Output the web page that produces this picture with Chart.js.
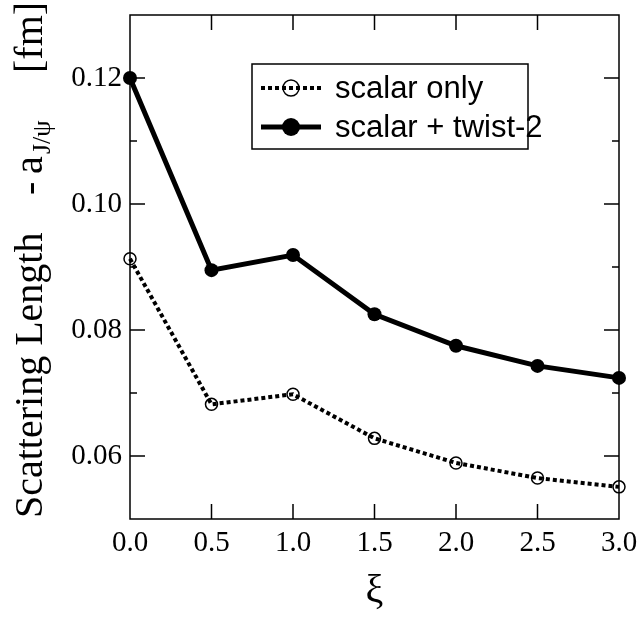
<!DOCTYPE html>
<html>
<head>
<meta charset="utf-8">
<script src="https://cdn.jsdelivr.net/npm/chart.js@4"></script>
<style>
  html, body { margin: 0; padding: 0; background: #fff; }
  #wrap { width: 639px; height: 619px; }
</style>
</head>
<body>
<div id="wrap"><canvas id="chart" width="639" height="619"></canvas></div>
<script>
// values
const xiValues = [0.0, 0.5, 1.0, 1.5, 2.0, 2.5, 3.0];
const scalarOnly = [0.0913, 0.0682, 0.0698, 0.0628, 0.0589, 0.0565, 0.0551];
const scalarTwist2 = [0.1200, 0.0895, 0.0919, 0.0825, 0.0775, 0.0743, 0.0724];
const seriesLabels = ["scalar only", "scalar + twist-2"];
const xTicks = [0, 0.5, 1.0, 1.5, 2.0, 2.5, 3.0];
const yTicks = [0.05, 0.06, 0.07, 0.08, 0.09, 0.10, 0.11, 0.12, 0.13];
const yLabelTicks = [0.06, 0.08, 0.10, 0.12];

const serif = '"Liberation Serif", "Times New Roman", serif';
const sans = '"Liberation Sans", Arial, sans-serif';

function toPoints(ys) {
  return xiValues.map((x, i) => ({ x: x, y: ys[i] }));
}

function isLabelTick(v) {
  return yLabelTicks.some(t => Math.abs(t - v) < 1e-9);
}

// frame + inward ticks on all four sides
const frameTicks = {
  id: "frameTicks",
  afterDraw(chart) {
    const { ctx, chartArea: a, scales } = chart;
    ctx.save();
    ctx.strokeStyle = "#000";
    ctx.lineWidth = 1.5;
    ctx.strokeRect(a.left, a.top, a.right - a.left, a.bottom - a.top);
    ctx.beginPath();
    scales.x.ticks.forEach(t => {
      const px = scales.x.getPixelForValue(t.value);
      if (px <= a.left + 1 || px >= a.right - 1) return;
      ctx.moveTo(px, a.bottom); ctx.lineTo(px, a.bottom - 15);
      ctx.moveTo(px, a.top); ctx.lineTo(px, a.top + 15);
    });
    scales.y.ticks.forEach(t => {
      const py = scales.y.getPixelForValue(t.value);
      if (py <= a.top + 1 || py >= a.bottom - 1) return;
      const len = isLabelTick(t.value) ? 15 : 7;
      ctx.moveTo(a.left, py); ctx.lineTo(a.left + len, py);
      ctx.moveTo(a.right, py); ctx.lineTo(a.right - len, py);
    });
    ctx.stroke();
    ctx.restore();
  }
};

// legend box with line + marker samples
const legendBox = {
  id: "legendBox",
  afterDatasetsDraw(chart) {
    const ctx = chart.ctx;
    const box = { left: 252, top: 64, right: 528, bottom: 149 };
    const rows = [88, 127];
    ctx.save();
    ctx.fillStyle = "#fff";
    ctx.fillRect(box.left, box.top, box.right - box.left, box.bottom - box.top);
    ctx.strokeStyle = "#000";
    ctx.lineWidth = 1.5;
    ctx.strokeRect(box.left, box.top, box.right - box.left, box.bottom - box.top);
    chart.data.datasets.forEach((ds, i) => {
      const y = rows[i];
      ctx.beginPath();
      ctx.setLineDash(ds.borderDash || []);
      ctx.lineWidth = ds.borderWidth;
      ctx.strokeStyle = ds.borderColor;
      ctx.moveTo(261, y); ctx.lineTo(321, y);
      ctx.stroke();
      ctx.setLineDash([]);
      ctx.beginPath();
      ctx.arc(291, y, ds.pointRadius + 2, 0, Math.PI * 2);
      if (ds.pointBackgroundColor !== "rgba(0,0,0,0)") {
        ctx.fillStyle = ds.pointBackgroundColor;
        ctx.fill();
      } else {
        ctx.fillStyle = "#fff";
        ctx.lineWidth = ds.pointBorderWidth;
        ctx.stroke();
      }
      ctx.fillStyle = "#000";
      ctx.font = "31px " + sans;
      ctx.textAlign = "left";
      ctx.textBaseline = "middle";
      ctx.fillText(ds.label, 335, y + 1);
    });
    ctx.restore();
  }
};

// rotated y-axis title with subscript
const yTitle = {
  id: "yTitle",
  afterDraw(chart) {
    const ctx = chart.ctx;
    ctx.save();
    ctx.translate(42, 0);
    ctx.rotate(-Math.PI / 2);
    ctx.fillStyle = "#000";
    ctx.textAlign = "left";
    ctx.textBaseline = "alphabetic";
    ctx.font = "40px " + serif;
    ctx.fillText("Scattering Length", -518, 0);
    ctx.fillText("-", -195, 0);
    ctx.fillText("a", -174, 0);
    ctx.font = "26px " + serif;
    ctx.fillText("J/\u03C8", -154, 8);
    ctx.font = "40px " + serif;
    ctx.fillText("[fm]", -73, 0);
    ctx.restore();
  }
};

new Chart(document.getElementById("chart"), {
  type: "scatter",
  data: {
    datasets: [
      {
        label: seriesLabels[0],
        data: toPoints(scalarOnly),
        showLine: true,
        borderColor: "#000",
        borderWidth: 4,
        borderDash: [4, 3],
        pointRadius: 6,
        pointBorderWidth: 1.5,
        pointBorderColor: "#000",
        pointBackgroundColor: "rgba(0,0,0,0)",
        clip: false
      },
      {
        label: seriesLabels[1],
        data: toPoints(scalarTwist2),
        showLine: true,
        borderColor: "#000",
        borderWidth: 5,
        pointRadius: 7,
        pointBorderWidth: 0,
        pointBackgroundColor: "#000",
        clip: false
      }
    ]
  },
  options: {
    responsive: false,
    devicePixelRatio: 1,
    animation: false,
    layout: { padding: { top: 15, right: 20, left: 0, bottom: 0 } },
    plugins: {
      legend: { display: false },
      tooltip: { enabled: false }
    },
    scales: {
      x: {
        type: "linear",
        min: 0,
        max: 3,
        afterBuildTicks: s => { s.ticks = xTicks.map(v => ({ value: v })); },
        afterFit: s => { s.height = 100; s.paddingLeft = 0; s.paddingRight = 0; },
        grid: { display: false, drawTicks: false },
        border: { display: false },
        ticks: {
          padding: 7,
          color: "#000",
          font: { family: serif, size: 29 },
          maxRotation: 0,
          callback: v => v.toFixed(1)
        },
        title: {
          display: true,
          text: "\u03BE",
          color: "#000",
          font: { family: serif, size: 40 },
          padding: { top: 0, bottom: 4 }
        }
      },
      y: {
        type: "linear",
        min: 0.05,
        max: 0.13,
        afterBuildTicks: s => { s.ticks = yTicks.map(v => ({ value: v })); },
        afterFit: s => { s.width = 130; s.paddingTop = 0; s.paddingBottom = 0; },
        grid: { display: false, drawTicks: false },
        border: { display: false },
        ticks: {
          padding: 8,
          color: "#000",
          font: { family: serif, size: 29 },
          callback: v => isLabelTick(v) ? v.toFixed(2) : ""
        }
      }
    }
  },
  plugins: [frameTicks, legendBox, yTitle]
});
</script>
</body>
</html>
